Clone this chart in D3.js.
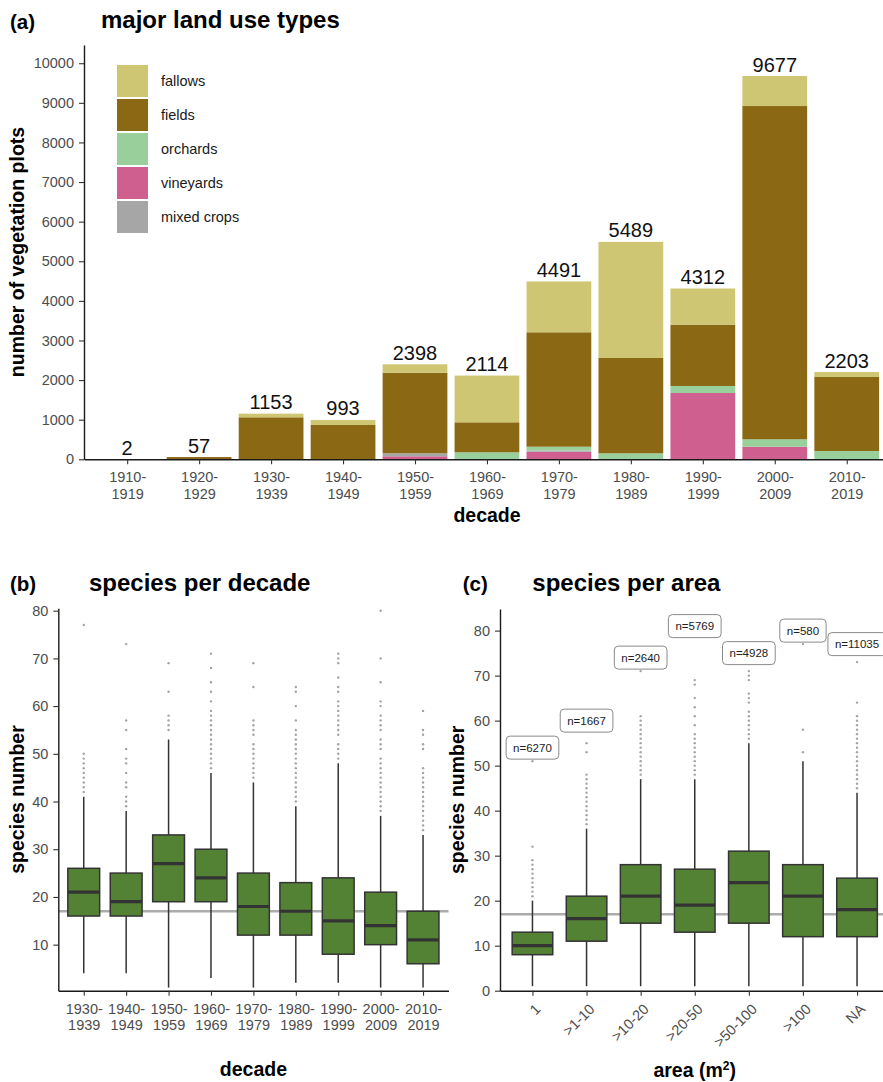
<!DOCTYPE html>
<html>
<head>
<meta charset="utf-8">
<script src="https://cdn.jsdelivr.net/npm/d3@7"></script>
<style>
  body { margin: 0; background: #fff; }
  svg { display: block; font-family: "Liberation Sans", Arial, Helvetica, sans-serif; }
  .tick text { fill: #4d4d4d; font-size: 14.5px; }
  .tick line { stroke: #333; stroke-width: 1.1px; }
  .domain { stroke: #1a1a1a; stroke-width: 1.4px; }
  .h1 { font-size: 24px; font-weight: bold; fill: #000; }
  .tag { font-size: 20.5px; font-weight: bold; fill: #000; }
  .axis-title { font-size: 19.5px; font-weight: bold; fill: #000; }
</style>
</head>
<body>
<div id="chart"></div>
<script>
// (a) vegetation plots per decade and land use
var decades = ['1910-1919', '1920-1929', '1930-1939', '1940-1949', '1950-1959', '1960-1969',
               '1970-1979', '1980-1989', '1990-1999', '2000-2009', '2010-2019'];
var totals     = [2, 57, 1153, 993, 2398, 2114, 4491, 5489, 4312, 9677, 2203];
var fallows    = [0, 0, 93, 127, 211, 1180, 1284, 2931, 912, 758, 125];
var fields     = [2, 57, 1060, 866, 2035, 757, 2889, 2406, 1549, 8414, 1868];
var orchards   = [0, 0, 0, 0, 0, 177, 96, 152, 177, 187, 210];
var vineyards  = [0, 0, 0, 0, 76, 0, 192, 0, 1674, 318, 0];
var mixedCrops = [0, 0, 0, 0, 76, 0, 30, 0, 0, 0, 0];
var yTicksA = [0, 1000, 2000, 3000, 4000, 5000, 6000, 7000, 8000, 9000, 10000];

// (b) species per decade: whiskers, quartiles, median, outliers
var decadesB = ['1930-1939', '1940-1949', '1950-1959', '1960-1969', '1970-1979',
                '1980-1989', '1990-1999', '2000-2009', '2010-2019'];
var loB  = [4, 4, 1, 3, 1, 2, 2, 1, 1];
var q1B  = [16, 16, 19, 19, 12, 12, 8, 10, 6];
var medB = [21, 19, 27, 24, 18, 17, 15, 14, 11];
var q3B  = [26, 25, 33, 30, 25, 23, 24, 21, 17];
var hiB  = [41, 38, 53, 46, 44, 39, 48, 37, 33];
var outB = [
  [42, 43, 44, 45, 46, 47, 48, 49, 50, 77],
  [39, 40, 41, 43, 44, 46, 48, 49, 51, 55, 57, 73],
  [55, 56, 57, 58, 63, 69],
  [47, 48, 49, 50, 51, 52, 53, 54, 55, 56, 57, 58, 59, 61, 63, 65, 68, 71],
  [45, 46, 47, 48, 49, 50, 51, 52, 54, 55, 56, 57, 64, 69],
  [40, 41, 42, 43, 44, 45, 46, 47, 48, 49, 50, 51, 52, 53, 54, 55, 57, 60, 63, 64],
  [49, 50, 51, 52, 54, 55, 56, 57, 58, 59, 60, 61, 63, 64, 66, 69, 70, 71],
  [38, 39, 40, 41, 42, 43, 44, 45, 46, 47, 48, 49, 51, 52, 53, 55, 56, 57, 58, 60, 61, 65, 70, 80],
  [34, 35, 36, 37, 38, 39, 40, 41, 42, 43, 44, 45, 46, 47, 51, 52, 54, 55, 59]
];
var yTicksB = [10, 20, 30, 40, 50, 60, 70, 80];

// (c) species per plot area
var areas = ['1', '>1-10', '>10-20', '>20-50', '>50-100', '>100', 'NA'];
var loC  = [1, 1, 1, 1, 1, 1, 1];
var q1C  = [8, 11, 15, 13, 15, 12, 12];
var medC = [10, 16, 21, 19, 24, 21, 18];
var q3C  = [13, 21, 28, 27, 31, 28, 25];
var hiC  = [20, 36, 47, 47, 55, 51, 44];
var outC = [
  [21, 22, 23, 24, 25, 26, 27, 28, 29, 32, 51],
  [37, 38, 39, 40, 41, 42, 43, 44, 45, 46, 47, 48, 53, 55],
  [48, 49, 50, 51, 52, 53, 54, 55, 56, 57, 58, 59, 60, 61, 71],
  [48, 49, 50, 51, 52, 53, 54, 55, 56, 57, 59, 61, 63, 65, 68, 69],
  [56, 57, 58, 59, 60, 61, 62, 64, 65, 66, 69, 70, 71],
  [53, 58, 77],
  [45, 46, 47, 48, 49, 50, 51, 52, 53, 54, 55, 56, 57, 58, 59, 60, 61, 64, 73]
];
var nLabels = ['n=6270', 'n=1667', 'n=2640', 'n=5769', 'n=4928', 'n=580', 'n=11035'];
var nLabelAt = [54, 60, 74, 81, 75, 80, 77];
var yTicksC = [0, 10, 20, 30, 40, 50, 60, 70, 80];

var overallMedian = 17;

var layerKeys = ['vineyards', 'mixed crops', 'orchards', 'fields', 'fallows']; // bottom -> top
var legendKeys = ['fallows', 'fields', 'orchards', 'vineyards', 'mixed crops'];
var colors = {
  'fallows': '#cec673', 'fields': '#8b6914', 'orchards': '#98cf9b',
  'vineyards': '#cf5f8f', 'mixed crops': '#a6a6a6'
};
var boxFill = '#548235';
var plain = d3.format('d');

var svg = d3.select('#chart').append('svg').attr('width', 883).attr('height', 1082);

/* ---------- panel a ---------- */
var xA = d3.scalePoint().domain(decades).range([84, 889.9]).padding(0.6);
var yA = d3.scaleLinear().domain([0, 10460]).range([459.3, 45]);
var barW = xA.step() * 0.9;

var rows = decades.map(function (d, i) {
  return { decade: d, 'fallows': fallows[i], 'fields': fields[i], 'orchards': orchards[i],
           'vineyards': vineyards[i], 'mixed crops': mixedCrops[i] };
});
var stacked = d3.stack().keys(layerKeys)(rows);

var pa = svg.append('g').classed('panel-a', true);

pa.selectAll('g.layer').data(stacked).enter().append('g').classed('layer', true)
  .attr('fill', function (s) { return colors[s.key]; })
  .selectAll('rect').data(function (s) { return s; }).enter().append('rect')
  .attr('x', function (d) { return xA(d.data.decade) - barW / 2; })
  .attr('width', barW)
  .attr('y', function (d) { return yA(d[1]); })
  .attr('height', function (d) { return yA(d[0]) - yA(d[1]); });

pa.selectAll('text.total').data(decades).enter().append('text').classed('total', true)
  .attr('x', function (d) { return xA(d); })
  .attr('y', function (d, i) { return yA(totals[i]) - 4.5; })
  .attr('text-anchor', 'middle').style('font-size', '20px').style('fill', '#111')
  .text(function (d, i) { return totals[i]; });

pa.append('g').attr('transform', 'translate(84,0)')
  .call(d3.axisLeft(yA).tickValues(yTicksA).tickFormat(plain)
    .tickSize(5).tickSizeOuter(0).tickPadding(5));

var axA = pa.append('g').attr('transform', 'translate(0,459.3)')
  .call(d3.axisBottom(xA).tickSize(5).tickSizeOuter(0));
axA.selectAll('.tick text').each(function (d) {
  var t = d3.select(this).text(null).attr('dy', null).attr('y', null);
  var parts = d.split('-');
  t.append('tspan').attr('x', 0).attr('y', 23).text(parts[0] + '-');
  t.append('tspan').attr('x', 0).attr('y', 40).text(parts[1]);
});

var legend = pa.append('g').classed('legend', true).attr('transform', 'translate(117,65)');
legendKeys.forEach(function (k, i) {
  legend.append('rect').attr('x', 0).attr('y', i * 34).attr('width', 31).attr('height', 32)
    .attr('fill', colors[k]);
  legend.append('text').attr('x', 44).attr('y', i * 34 + 16).attr('dy', '0.35em')
    .style('font-size', '14.5px').style('fill', '#1a1a1a').text(k);
});

pa.append('text').classed('tag', true).attr('x', 10).attr('y', 29).text('(a)');
pa.append('text').classed('h1', true).attr('x', 101).attr('y', 27.5).text('major land use types');
pa.append('text').classed('axis-title', true).attr('text-anchor', 'middle')
  .attr('transform', 'translate(24,252) rotate(-90)').text('number of vegetation plots');
pa.append('text').classed('axis-title', true).attr('text-anchor', 'middle')
  .attr('x', 487).attr('y', 521.5).text('decade');

/* ---------- boxplots ---------- */
function boxes(g, x, y, cats, lo, q1, med, q3, hi, outs) {
  var bw = x.step() * 0.75;
  var b = g.selectAll('g.box').data(cats).enter().append('g').classed('box', true)
    .attr('transform', function (d) { return 'translate(' + x(d) + ',0)'; });
  b.append('line').attr('y1', function (d, i) { return y(q3[i]); })
    .attr('y2', function (d, i) { return y(hi[i]); });
  b.append('line').attr('y1', function (d, i) { return y(q1[i]); })
    .attr('y2', function (d, i) { return y(lo[i]); });
  b.selectAll('line').attr('x1', 0).attr('x2', 0).attr('stroke', '#333').attr('stroke-width', 1.5);
  b.append('rect').attr('x', -bw / 2).attr('width', bw)
    .attr('y', function (d, i) { return y(q3[i]); })
    .attr('height', function (d, i) { return y(q1[i]) - y(q3[i]); })
    .attr('fill', boxFill).attr('stroke', '#333').attr('stroke-width', 1.5);
  b.append('line').attr('x1', -bw / 2).attr('x2', bw / 2)
    .attr('y1', function (d, i) { return y(med[i]); })
    .attr('y2', function (d, i) { return y(med[i]); })
    .attr('stroke', '#333').attr('stroke-width', 3.2);
  b.each(function (d, i) {
    d3.select(this).selectAll('circle').data(outs[i]).enter().append('circle')
      .attr('cx', 0).attr('cy', function (v) { return y(v); }).attr('r', 1.2)
      .attr('fill', '#a3a3a3');
  });
}

/* ---------- panel b ---------- */
var xB = d3.scalePoint().domain(decadesB).range([58.3, 448.5]).padding(0.6);
var yB = d3.scaleLinear().domain([0.35, 80.5]).range([990.7, 608.3]);
var pb = svg.append('g').classed('panel-b', true);

pb.append('line').attr('x1', 58.3).attr('x2', 448.5)
  .attr('y1', yB(overallMedian)).attr('y2', yB(overallMedian))
  .attr('stroke', '#acacac').attr('stroke-width', 2.6);
boxes(pb, xB, yB, decadesB, loB, q1B, medB, q3B, hiB, outB);

pb.append('g').attr('transform', 'translate(58.3,0)')
  .call(d3.axisLeft(yB).tickValues(yTicksB).tickFormat(plain)
    .tickSize(5).tickSizeOuter(0).tickPadding(5));
var axB = pb.append('g').attr('transform', 'translate(0,990.7)')
  .call(d3.axisBottom(xB).tickSize(5).tickSizeOuter(0));
axB.selectAll('.tick text').each(function (d) {
  var t = d3.select(this).text(null).attr('dy', null).attr('y', null);
  var parts = d.split('-');
  t.append('tspan').attr('x', 0).attr('y', 23.3).text(parts[0] + '-');
  t.append('tspan').attr('x', 0).attr('y', 39.5).text(parts[1]);
});

pb.append('text').classed('tag', true).attr('x', 10).attr('y', 591).text('(b)');
pb.append('text').classed('h1', true).attr('x', 89).attr('y', 591).text('species per decade');
pb.append('text').classed('axis-title', true).attr('text-anchor', 'middle')
  .attr('transform', 'translate(24,' + ((608.3 + 990.7) / 2) + ') rotate(-90)').text('species number');
pb.append('text').classed('axis-title', true).attr('text-anchor', 'middle')
  .attr('x', 253.4).attr('y', 1076).text('decade');

/* ---------- panel c ---------- */
var xC = d3.scalePoint().domain(areas).range([500, 889.5]).padding(0.6);
var yC = d3.scaleLinear().domain([0, 84.8]).range([990.7, 609]);
var pc = svg.append('g').classed('panel-c', true);

pc.append('line').attr('x1', 500).attr('x2', 889.5)
  .attr('y1', yC(overallMedian)).attr('y2', yC(overallMedian))
  .attr('stroke', '#acacac').attr('stroke-width', 2.6);
boxes(pc, xC, yC, areas, loC, q1C, medC, q3C, hiC, outC);

var labels = pc.selectAll('g.nlabel').data(areas).enter().append('g').classed('nlabel', true)
  .attr('transform', function (d, i) { return 'translate(' + xC(d) + ',' + yC(nLabelAt[i]) + ')'; });
labels.append('rect');
labels.append('text').attr('text-anchor', 'middle').attr('dy', '0.35em')
  .style('font-size', '11.5px').style('fill', '#222')
  .text(function (d, i) { return nLabels[i]; });
labels.each(function () {
  var g = d3.select(this);
  var w = g.select('text').node().getComputedTextLength() + 14;
  g.select('rect').attr('x', -w / 2).attr('y', -11.5).attr('width', w).attr('height', 23)
    .attr('rx', 4).attr('fill', '#fff').attr('stroke', '#8a8a8a').attr('stroke-width', 1);
});

pc.append('g').attr('transform', 'translate(500,0)')
  .call(d3.axisLeft(yC).tickValues(yTicksC).tickFormat(plain)
    .tickSize(5).tickSizeOuter(0).tickPadding(5));
var axC = pc.append('g').attr('transform', 'translate(0,990.7)')
  .call(d3.axisBottom(xC).tickSize(5).tickSizeOuter(0));
axC.selectAll('.tick text').attr('y', 0).attr('dy', null)
  .attr('text-anchor', 'end').attr('transform', 'translate(8.5,19.3) rotate(-45)');

pc.append('text').classed('tag', true).attr('x', 462.7).attr('y', 591).text('(c)');
pc.append('text').classed('h1', true).attr('x', 532.3).attr('y', 591).text('species per area');
pc.append('text').classed('axis-title', true).attr('text-anchor', 'middle')
  .attr('transform', 'translate(464,' + ((609 + 990.7) / 2) + ') rotate(-90)').text('species number');
var areaTitle = pc.append('text').classed('axis-title', true).attr('text-anchor', 'middle')
  .attr('x', 694.7).attr('y', 1076.5);
areaTitle.append('tspan').text('area (m');
areaTitle.append('tspan').attr('dy', -7).style('font-size', '12px').text('2');
areaTitle.append('tspan').attr('dy', 7).text(')');
</script>
</body>
</html>
